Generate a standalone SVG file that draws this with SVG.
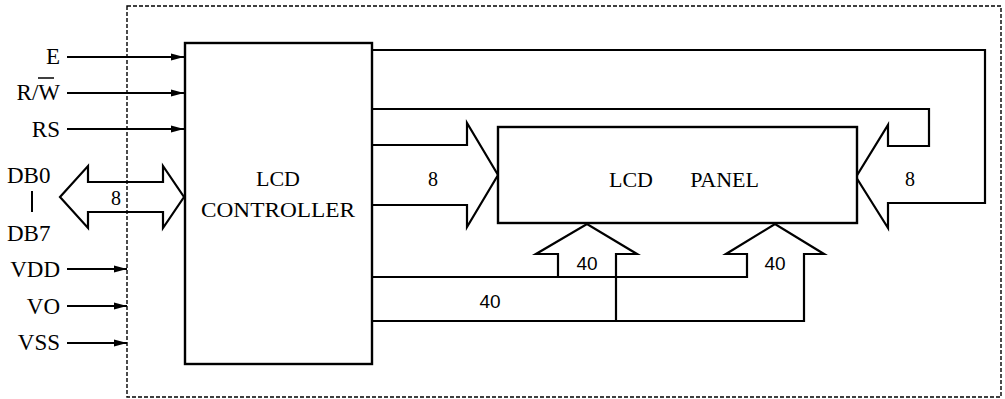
<svg xmlns="http://www.w3.org/2000/svg" width="1005" height="399" viewBox="0 0 1005 399">
<style>
.ln{fill:none;stroke:#000;stroke-width:2.2;stroke-linejoin:miter}
.box{fill:#fff;stroke:#000;stroke-width:2.4}
.dash{fill:none;stroke:#000;stroke-width:1.4;stroke-dasharray:4 2}
text{fill:#000}
</style>
<defs>
<marker id="ah" markerWidth="14" markerHeight="9" refX="13" refY="4.5" orient="auto" markerUnits="userSpaceOnUse">
<path d="M0,1 L13,4.5 L0,8 Z" fill="#000"/>
</marker>
</defs>
<rect class="dash" x="127" y="6" width="874" height="391"/>
<g id="connectors">
<line class="ln" x1="67" y1="57" x2="184" y2="57" marker-end="url(#ah)"/>
<line class="ln" x1="67" y1="93" x2="184" y2="93" marker-end="url(#ah)"/>
<line class="ln" x1="67" y1="129" x2="184" y2="129" marker-end="url(#ah)"/>
<line class="ln" x1="67" y1="269" x2="127" y2="269" marker-end="url(#ah)"/>
<line class="ln" x1="67" y1="306" x2="127" y2="306" marker-end="url(#ah)"/>
<line class="ln" x1="67" y1="343" x2="127" y2="343" marker-end="url(#ah)"/>
<polygon class="ln" points="60,197 88,166 88,182 163,182 163,166 184,197 163,228 163,212 88,212 88,228"/>
<polyline class="ln" points="372,145 467,145 467,123 498,175 467,227 467,205 372,205"/>
<polyline class="ln" points="372,50 985,50 985,203 888,203 888,228 856,177 888,125 888,146 929,146 929,109 372,109"/>
<polyline class="ln" points="372,277 747,277 747,254 726,254 775,224 824,254 804,254 804,321 372,321"/>
<polyline class="ln" points="558,277 558,254 536,254 587,224 637,254 616,254 616,321"/>
</g>
<g id="controller">
<rect class="box" x="185" y="43" width="187" height="321"/>
<text font-family="Liberation Serif, DejaVu Serif, serif" x="278" y="186" font-size="22" text-anchor="middle">LCD</text>
<text font-family="Liberation Serif, DejaVu Serif, serif" x="278" y="217" font-size="22" text-anchor="middle" textLength="154" lengthAdjust="spacingAndGlyphs">CONTROLLER</text>
</g>
<g id="panel">
<rect class="box" x="498" y="127" width="359" height="96"/>
<text font-family="Liberation Serif, DejaVu Serif, serif" x="609" y="187" font-size="22">LCD</text>
<text font-family="Liberation Serif, DejaVu Serif, serif" x="759" y="187" font-size="22" text-anchor="end">PANEL</text>
</g>
<g id="labels" font-family="Liberation Serif, DejaVu Serif, serif" font-size="23">
<text x="60" y="64" text-anchor="end">E</text>
<text x="60" y="100" text-anchor="end">R/W</text>
<line x1="38" y1="78" x2="54" y2="78" stroke="#000" stroke-width="1.5"/>
<text x="60" y="137" text-anchor="end">RS</text>
<text x="7" y="183">DB0</text>
<line x1="32" y1="191" x2="32" y2="212" stroke="#000" stroke-width="2"/>
<text x="7" y="241">DB7</text>
<text x="60" y="277" text-anchor="end">VDD</text>
<text x="60" y="314" text-anchor="end">VO</text>
<text x="60" y="350" text-anchor="end">VSS</text>
<text x="116" y="205" font-size="20" text-anchor="middle">8</text>
<text x="433" y="186" font-size="20" text-anchor="middle">8</text>
<text x="910" y="186" font-size="20" text-anchor="middle">8</text>
<text font-family="Liberation Sans, Arial, sans-serif" x="587" y="270" font-size="19" text-anchor="middle">40</text>
<text font-family="Liberation Sans, Arial, sans-serif" x="775" y="270" font-size="19" text-anchor="middle">40</text>
<text font-family="Liberation Sans, Arial, sans-serif" x="490" y="308" font-size="19" text-anchor="middle">40</text>
</g>
</svg>
